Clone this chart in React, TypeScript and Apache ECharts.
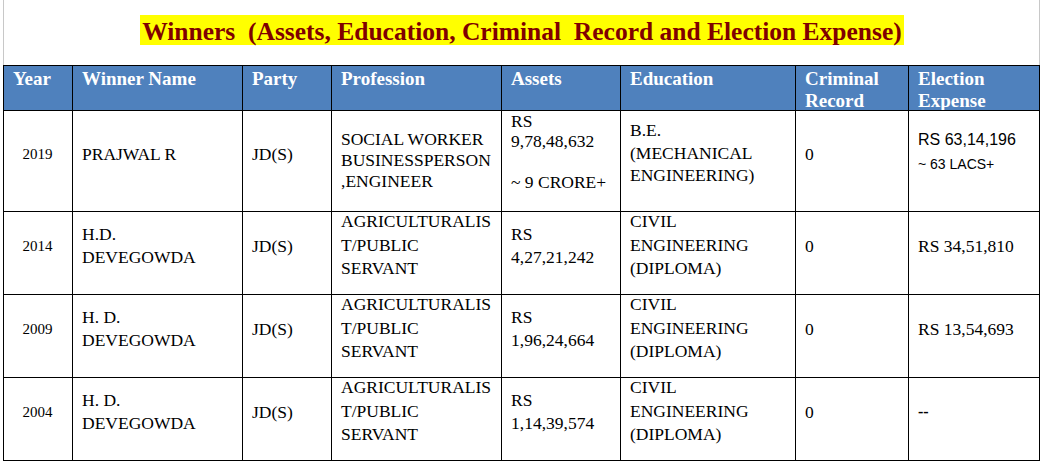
import React, { useEffect, useRef } from "react";
import * as echarts from "echarts";

const title = "Winners  (Assets, Education, Criminal  Record and Election Expense)";
const headers = ["Year", "Winner Name", "Party", "Profession", "Assets", "Education", "Criminal\nRecord", "Election\nExpense"];
const years = ["2019", "2014", "2009", "2004"];
const winnerNames = ["PRAJWAL R", "H.D.\nDEVEGOWDA", "H. D.\nDEVEGOWDA", "H. D.\nDEVEGOWDA"];
const parties = ["JD(S)", "JD(S)", "JD(S)", "JD(S)"];
const professions = [
  "SOCIAL WORKER\nBUSINESSPERSON\n,ENGINEER",
  "AGRICULTURALIS\nT/PUBLIC\nSERVANT",
  "AGRICULTURALIS\nT/PUBLIC\nSERVANT",
  "AGRICULTURALIS\nT/PUBLIC\nSERVANT",
];
const assets = ["RS\n9,78,48,632\n\n~ 9 CRORE+", "RS\n4,27,21,242", "RS\n1,96,24,664", "RS\n1,14,39,574"];
const educations = [
  "B.E.\n(MECHANICAL\nENGINEERING)",
  "CIVIL\nENGINEERING\n(DIPLOMA)",
  "CIVIL\nENGINEERING\n(DIPLOMA)",
  "CIVIL\nENGINEERING\n(DIPLOMA)",
];
const criminalRecords = ["0", "0", "0", "0"];
const electionExpenses = ["RS 63,14,196\n~ 63 LACS+", "RS 34,51,810", "RS 13,54,693", "--"];

// layout
const colX = [3, 72, 242, 331, 501, 620, 795, 908, 1039];
const headerTop = 65;
const headerBottom = 110;
const rowY = [110, 211, 294, 377, 460];

export default function App() {
  const ref = useRef<HTMLDivElement>(null);
  useEffect(() => {
    document.body.style.margin = "0";
    const chart = echarts.init(ref.current!, null, { renderer: "svg" });
    const els: any[] = [];
    const serif = '"Liberation Serif", "Times New Roman", serif';
    const sans = '"Liberation Sans", Arial, sans-serif';

    // outer frame lines (gray)
    els.push({ type: "line", shape: { x1: 3.5, y1: 0, x2: 3.5, y2: headerTop }, style: { stroke: "#c8c8c8", lineWidth: 1 } });
    els.push({ type: "line", shape: { x1: 1039.5, y1: 0, x2: 1039.5, y2: headerTop }, style: { stroke: "#c8c8c8", lineWidth: 1 } });

    // title highlight
    els.push({ type: "rect", shape: { x: 140, y: 15, width: 764, height: 30 }, style: { fill: "#ffff00" } });
    els.push({
      type: "text",
      style: {
        text: title, x: 522, y: 31, align: "center", verticalAlign: "middle",
        font: `bold 25.5px ${serif}`, fill: "#7f0000",
      },
    });

    // header background
    els.push({ type: "rect", shape: { x: colX[0], y: headerTop, width: colX[8] - colX[0], height: headerBottom - headerTop }, style: { fill: "#4f81bd" } });

    headers.forEach((h, i) => {
      h.split("\n").forEach((line, k) => {
        els.push({
          type: "text",
          style: {
            text: line, x: colX[i] + 10, y: 78 + k * 22, align: "left", verticalAlign: "middle",
            font: `bold 19px ${serif}`, fill: "#ffffff",
          },
        });
      });
    });

    const addCell = (txt: string, col: number, row: number, opts: any = {}) => {
      const lines = txt.split("\n");
      const lh = opts.lh ?? 23.5;
      const cy = (rowY[row] + rowY[row + 1]) / 2 + (opts.dy ?? 0);
      lines.forEach((line, k) => {
        if (!line) return;
        const y = cy + (k - (lines.length - 1) / 2) * lh;
        els.push({
          type: "text",
          style: {
            text: line,
            x: opts.center ? (colX[col] + colX[col + 1]) / 2 : colX[col] + 10,
            y, align: opts.center ? "center" : "left", verticalAlign: "middle",
            font: opts.font ?? `17.5px ${serif}`, fill: "#000000",
          },
        });
      });
    };

    years.forEach((_, r) => {
      addCell(years[r], 0, r, { center: true, font: `15px ${serif}`, dy: -7 });
      addCell(winnerNames[r], 1, r, { dy: -7 });
      addCell(parties[r], 2, r, { dy: -7 });
      addCell(professions[r], 3, r, r === 0 ? { lh: 21, dy: -0.5 } : { dy: -8 });
      addCell(assets[r], 4, r, r === 0 ? { lh: 20.5, dy: -9 } : { dy: -7 });
      addCell(educations[r], 5, r, r === 0 ? { lh: 22.5, dy: -8 } : { dy: -8 });
      addCell(criminalRecords[r], 6, r, { dy: -7 });
      if (r === 0) {
        const parts = electionExpenses[r].split("\n");
        addCell(parts[0], 7, r, { font: `16px ${sans}`, dy: -21 });
        addCell(parts[1], 7, r, { font: `14px ${sans}`, dy: 3 });
      } else {
        addCell(electionExpenses[r], 7, r, { font: r === 3 ? `bold 16px ${serif}` : `17.5px ${serif}`, dy: -7 });
      }
    });

    // grid lines
    const stroke = { stroke: "#000000", lineWidth: 1 };
    colX.forEach((x) => {
      els.push({ type: "line", shape: { x1: x + 0.5, y1: headerTop, x2: x + 0.5, y2: rowY[4] + 1 }, style: stroke });
    });
    [headerTop, ...rowY].forEach((y) => {
      els.push({ type: "line", shape: { x1: colX[0], y1: y + 0.5, x2: colX[8] + 1, y2: y + 0.5 }, style: stroke });
    });

    chart.setOption({ animation: false, graphic: { elements: els } });
    return () => chart.dispose();
  }, []);
  return <div ref={ref} style={{ position: "fixed", left: 0, top: 0, width: 1045, height: 462, background: "#ffffff" }} />;
}
